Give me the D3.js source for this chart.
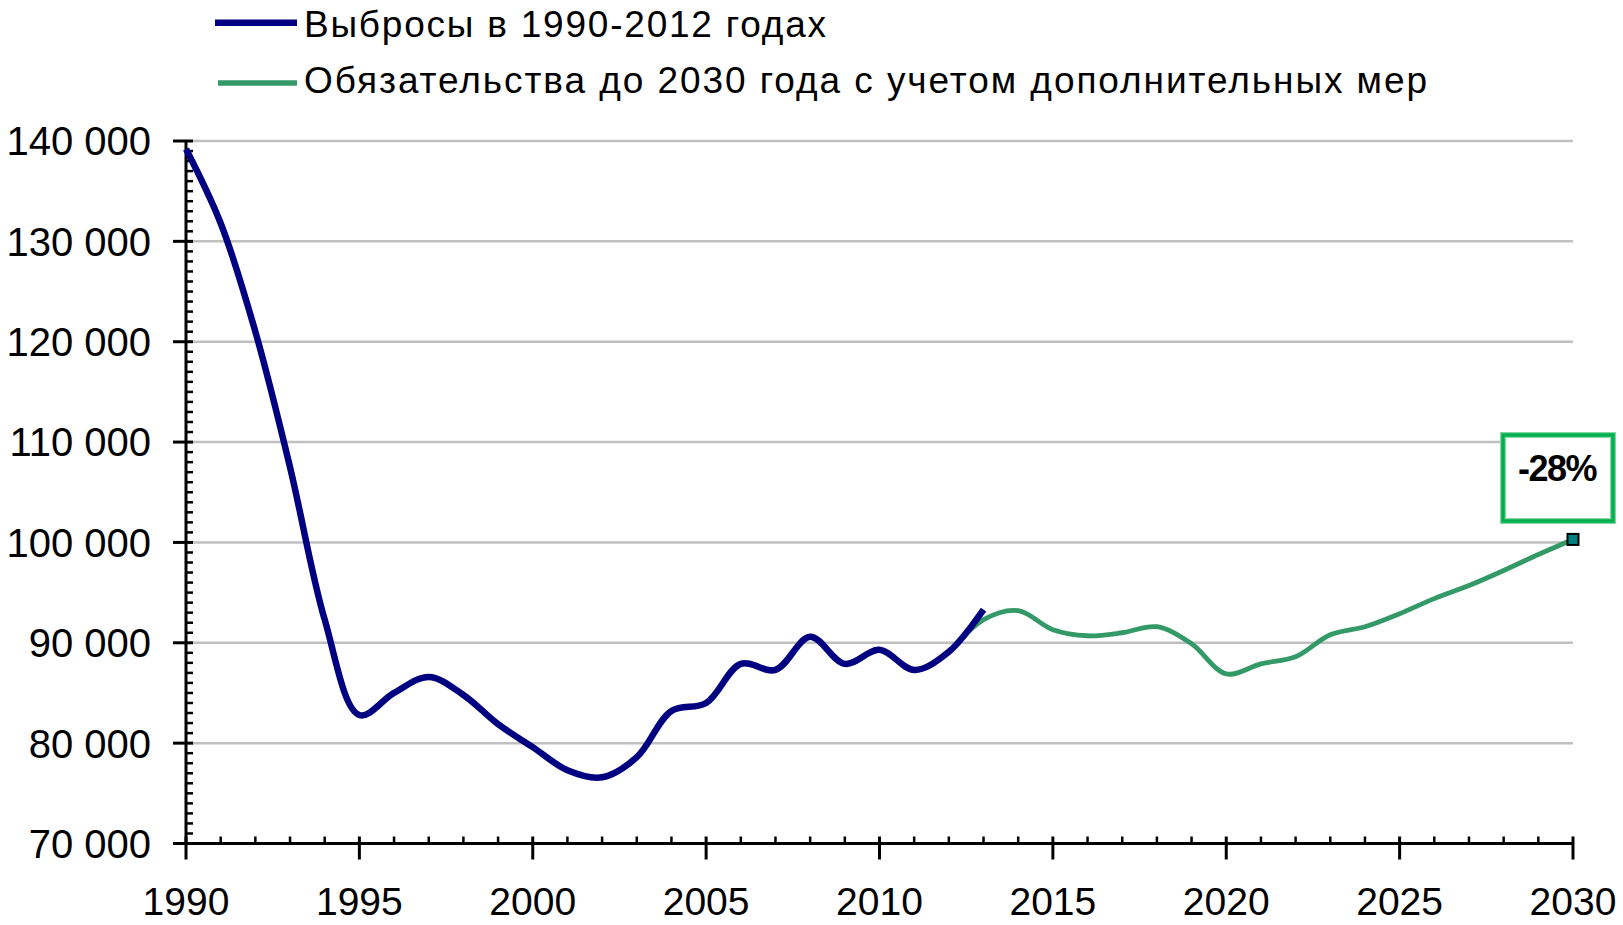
<!DOCTYPE html>
<html>
<head>
<meta charset="utf-8">
<script src="https://cdn.jsdelivr.net/npm/d3@7"></script>
<style>
  html, body { margin: 0; padding: 0; background: #fff; }
  svg { display: block; font-family: "Liberation Sans", Arial, sans-serif; }
</style>
</head>
<body>
<svg id="chart" width="1623" height="925"></svg>
<script>
// ── Data ─────────────────────────────────────────────────────────
const histYears = [1990, 1991, 1992, 1993, 1994, 1995, 1996, 1997, 1998, 1999, 2000, 2001,
                   2002, 2003, 2004, 2005, 2006, 2007, 2008, 2009, 2010, 2011, 2012, 2013];
const histValues = [139200, 131800, 121000, 107500, 92300, 82800, 85000, 86600, 84800, 81900, 79600, 77300,
                    76600, 78600, 83200, 84000, 87900, 87300, 90600, 87900, 89300, 87300, 89100, 93300];

const targetYears = [2012, 2013, 2014, 2015, 2016, 2017, 2018, 2019, 2020, 2021,
                     2022, 2023, 2024, 2025, 2026, 2027, 2028, 2029, 2030];
const targetValues = [89000, 92300, 93200, 91300, 90700, 91000, 91600, 89900, 86900, 87900,
                      88600, 90800, 91600, 92900, 94400, 95700, 97200, 98800, 100300];

const yTicks = [70000, 80000, 90000, 100000, 110000, 120000, 130000, 140000];
const xTicks = [1990, 1995, 2000, 2005, 2010, 2015, 2020, 2025, 2030];

const legendLabels = [
  'Выбросы в 1990-2012 годах',
  'Обязательства до 2030 года с учетом дополнительных мер'
];
const calloutLabel = '-28%';

const BLUE  = '#000080';
const GREEN = '#339966';
const GRID  = '#c0c0c0';

// ── Scales ──────────────────────────────────────────────────────
const x = d3.scaleLinear().domain([1990, 2030]).range([186, 1573]);
const y = d3.scaleLinear().domain([70000, 140000]).range([843.5, 141]);

const fmt = d => d3.format(',')(d).replace(/,/g, ' ');

const svg = d3.select('#chart');

// gridlines
svg.append('g')
  .selectAll('line')
  .data(yTicks.filter(d => d > 70000))
  .join('line')
  .attr('x1', x(1990) + 6).attr('x2', x(2030))
  .attr('y1', d => y(d)).attr('y2', d => y(d))
  .attr('stroke', GRID)
  .attr('stroke-width', 2.5);

// ── Y axis ──────────────────────────────────────────────────────
const yAxis = svg.append('g');
yAxis.append('line')
  .attr('x1', x(1990)).attr('x2', x(1990))
  .attr('y1', y(140000) - 1).attr('y2', y(70000) + 1)
  .attr('stroke', '#000').attr('stroke-width', 3);

// minor ticks every 1000
const yMinor = d3.range(70000, 140001, 1000).filter(d => d % 10000 !== 0);
yAxis.selectAll('.ymin')
  .data(yMinor)
  .join('line')
  .attr('x1', x(1990)).attr('x2', x(1990) + 7)
  .attr('y1', d => y(d)).attr('y2', d => y(d))
  .attr('stroke', '#000').attr('stroke-width', 2.5);

yAxis.selectAll('.ymaj')
  .data(yTicks)
  .join('line')
  .attr('x1', x(1990) - 13).attr('x2', x(1990) + 7)
  .attr('y1', d => y(d)).attr('y2', d => y(d))
  .attr('stroke', '#000').attr('stroke-width', 3);

yAxis.selectAll('text')
  .data(yTicks)
  .join('text')
  .attr('x', 151)
  .attr('y', d => y(d))
  .attr('dy', '0.36em')
  .attr('text-anchor', 'end')
  .attr('font-size', 40)
  .attr('fill', '#000')
  .text(fmt);

// ── X axis ──────────────────────────────────────────────────────
const xAxis = svg.append('g');
xAxis.append('line')
  .attr('x1', x(1990) - 13).attr('x2', x(2030) + 1)
  .attr('y1', y(70000)).attr('y2', y(70000))
  .attr('stroke', '#000').attr('stroke-width', 3);

const xMinor = d3.range(1991, 2030).filter(d => d % 5 !== 0);
xAxis.selectAll('.xmin')
  .data(xMinor)
  .join('line')
  .attr('x1', d => x(d)).attr('x2', d => x(d))
  .attr('y1', y(70000) - 7).attr('y2', y(70000))
  .attr('stroke', '#000').attr('stroke-width', 2.5);

xAxis.selectAll('.xmaj')
  .data(xTicks)
  .join('line')
  .attr('x1', d => x(d)).attr('x2', d => x(d))
  .attr('y1', y(70000) - 7).attr('y2', y(70000) + 16)
  .attr('stroke', '#000').attr('stroke-width', 3);

xAxis.selectAll('text')
  .data(xTicks)
  .join('text')
  .attr('x', d => x(d))
  .attr('y', 915)
  .attr('text-anchor', 'middle')
  .attr('font-size', 39)
  .attr('fill', '#000')
  .text(d => d);

// ── Lines ───────────────────────────────────────────────────────
const line = d3.line()
  .x(d => x(d[0]))
  .y(d => y(d[1]))
  .curve(d3.curveCatmullRom.alpha(0.5));

svg.append('path')
  .datum(d3.zip(targetYears, targetValues))
  .attr('d', line)
  .attr('fill', 'none')
  .attr('stroke', GREEN)
  .attr('stroke-width', 4.8);

svg.append('path')
  .datum(d3.zip(histYears, histValues))
  .attr('d', line)
  .attr('fill', 'none')
  .attr('stroke', BLUE)
  .attr('stroke-width', 6.5);

// end marker at 2030
const lastYear = targetYears[targetYears.length - 1];
const lastVal  = targetValues[targetValues.length - 1];
svg.append('rect')
  .attr('x', x(lastYear) - 5.5)
  .attr('y', y(lastVal) - 5.5)
  .attr('width', 11).attr('height', 11)
  .attr('fill', '#008080')
  .attr('stroke', '#000')
  .attr('stroke-width', 2);

// ── Callout box ────────────────────────────────────────────────
const box = svg.append('g');
box.append('rect')
  .attr('x', 1503).attr('y', 435)
  .attr('width', 110).attr('height', 86)
  .attr('fill', '#fff')
  .attr('stroke', '#80d8a0')
  .attr('stroke-width', 6);
box.append('rect')
  .attr('x', 1503).attr('y', 435)
  .attr('width', 110).attr('height', 86)
  .attr('fill', 'none')
  .attr('stroke', '#00b050')
  .attr('stroke-width', 3.5);
box.append('text')
  .attr('x', 1557)
  .attr('y', 481)
  .attr('text-anchor', 'middle')
  .attr('font-size', 36)
  .attr('font-weight', 'bold')
  .attr('letter-spacing', -1.5)
  .attr('fill', '#000')
  .text(calloutLabel);

// ── Legend ─────────────────────────────────────────────────────
const legend = svg.append('g');
const legendRows = [
  { label: legendLabels[0], color: BLUE,  width: 6.5, x1: 215, y: 22.7, base: 37, len: 522 },
  { label: legendLabels[1], color: GREEN, width: 5.5, x1: 218, y: 83,   base: 93, len: 1123 }
];
legendRows.forEach(r => {
  legend.append('line')
    .attr('x1', r.x1).attr('x2', 297)
    .attr('y1', r.y).attr('y2', r.y)
    .attr('stroke', r.color)
    .attr('stroke-width', r.width);
  legend.append('text')
    .attr('x', 304)
    .attr('y', r.base)
    .attr('font-size', 37)
    .attr('fill', '#000')
    .attr('textLength', r.len)
    .attr('lengthAdjust', 'spacing')
    .text(r.label);
});
</script>
</body>
</html>
